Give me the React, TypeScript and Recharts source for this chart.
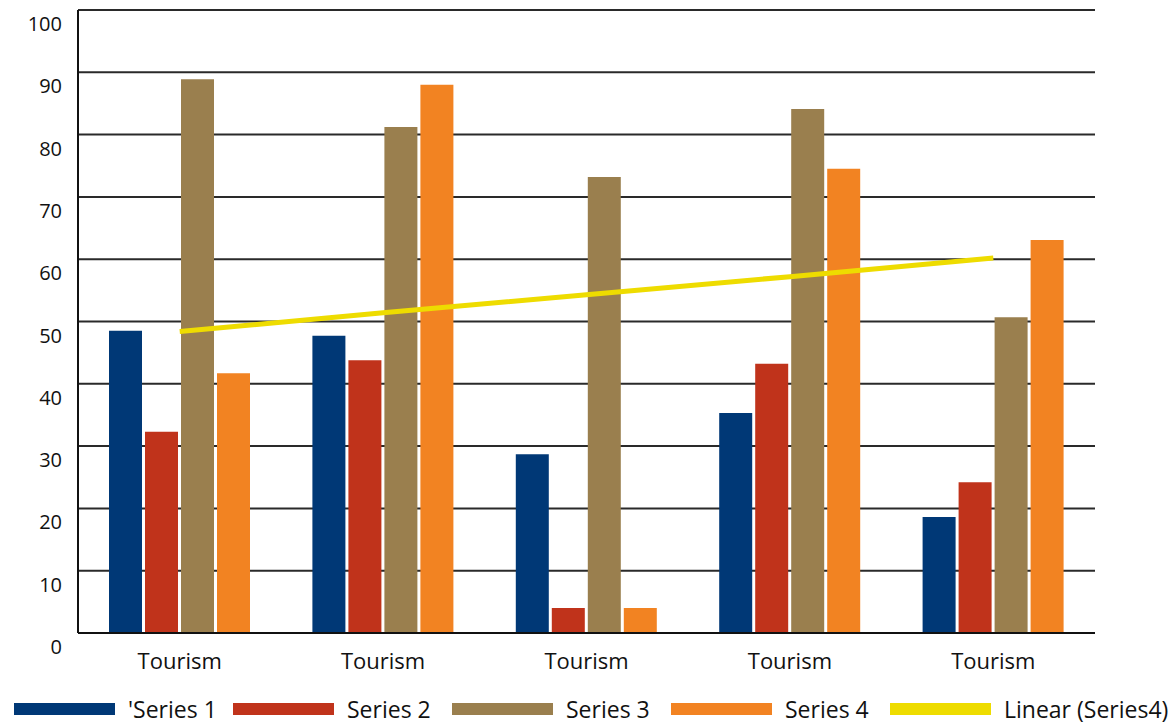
import { ComposedChart, Bar, Line, XAxis, YAxis, CartesianGrid } from "recharts";

const categories = ["Tourism", "Tourism", "Tourism", "Tourism", "Tourism"];
const series1 = [48.5, 47.7, 28.7, 35.3, 18.6];
const series2 = [32.3, 43.8, 4.0, 43.2, 24.2];
const series3 = [88.9, 81.2, 73.2, 84.1, 50.7];
const series4 = [41.7, 88.0, 4.0, 74.5, 63.1];
const trend4 = [48.4, 51.4, 54.3, 57.2, 60.2];
const yTicks = [0, 10, 20, 30, 40, 50, 60, 70, 80, 90, 100];

const seriesNames = ["'Series 1", "Series 2", "Series 3", "Series 4", "Linear (Series4)"];
const seriesColors = ["#003876", "#C0331B", "#9A7F4E", "#F28322", "#EEDC00"];

const data = categories.map((c, i) => ({
  name: c,
  s1: series1[i],
  s2: series2[i],
  s3: series3[i],
  s4: series4[i],
  trend: trend4[i],
}));

const FONT = "'Open Sans', sans-serif";

function YTick({ x, y, payload }: any) {
  return (
    <text x={x - 8} y={y + 21} textAnchor="end" fontSize={20} fill="#111" fontFamily={FONT}>
      {payload.value}
    </text>
  );
}

function XTick({ x, y, payload }: any) {
  return (
    <text x={x} y={y + 28} textAnchor="middle" fontSize={22} fill="#111" fontFamily={FONT}>
      {payload.value}
    </text>
  );
}

function LegendBox() {
  return (
    <div
      style={{
        position: "absolute",
        left: 14,
        top: 693,
        width: 1162,
        display: "flex",
        fontFamily: FONT,
        fontSize: 23,
        color: "#111",
      }}
    >
      {seriesNames.map((n, i) => (
        <div key={n} style={{ width: 219, flexShrink: 0, display: "flex", alignItems: "center" }}>
          <div
            style={{ width: 101, height: 12, flexShrink: 0, background: seriesColors[i], marginRight: 13 }}
          />
          <span style={{ whiteSpace: "nowrap" }}>{n}</span>
        </div>
      ))}
    </div>
  );
}

export default function App() {
  return (
    <div style={{ position: "absolute", left: 0, top: 0, width: 1176, height: 728, background: "#fff", overflow: "hidden" }}>
      <ComposedChart
        width={1176}
        height={728}
        data={data}
        margin={{ top: 10, right: 81, bottom: 65, left: 0 }}
        barGap={3}
        barCategoryGap={31}
      >
        <CartesianGrid vertical={false} stroke="#2a2a2a" strokeWidth={2} />
        <XAxis
          dataKey="name"
          tickLine={false}
          axisLine={{ stroke: "#111", strokeWidth: 2 }}
          tick={<XTick />}
          interval={0}
        />
        <YAxis
          domain={[0, 100]}
          ticks={yTicks}
          width={78}
          tickLine={false}
          axisLine={{ stroke: "#111", strokeWidth: 2 }}
          tick={<YTick />}
        />
        <Bar dataKey="s1" fill={seriesColors[0]} barSize={33} isAnimationActive={false} />
        <Bar dataKey="s2" fill={seriesColors[1]} barSize={33} isAnimationActive={false} />
        <Bar dataKey="s3" fill={seriesColors[2]} barSize={33} isAnimationActive={false} />
        <Bar dataKey="s4" fill={seriesColors[3]} barSize={33} isAnimationActive={false} />
        <Line
          dataKey="trend"
          stroke={seriesColors[4]}
          strokeWidth={5}
          dot={false}
          isAnimationActive={false}
        />
      </ComposedChart>
      <LegendBox />
    </div>
  );
}
